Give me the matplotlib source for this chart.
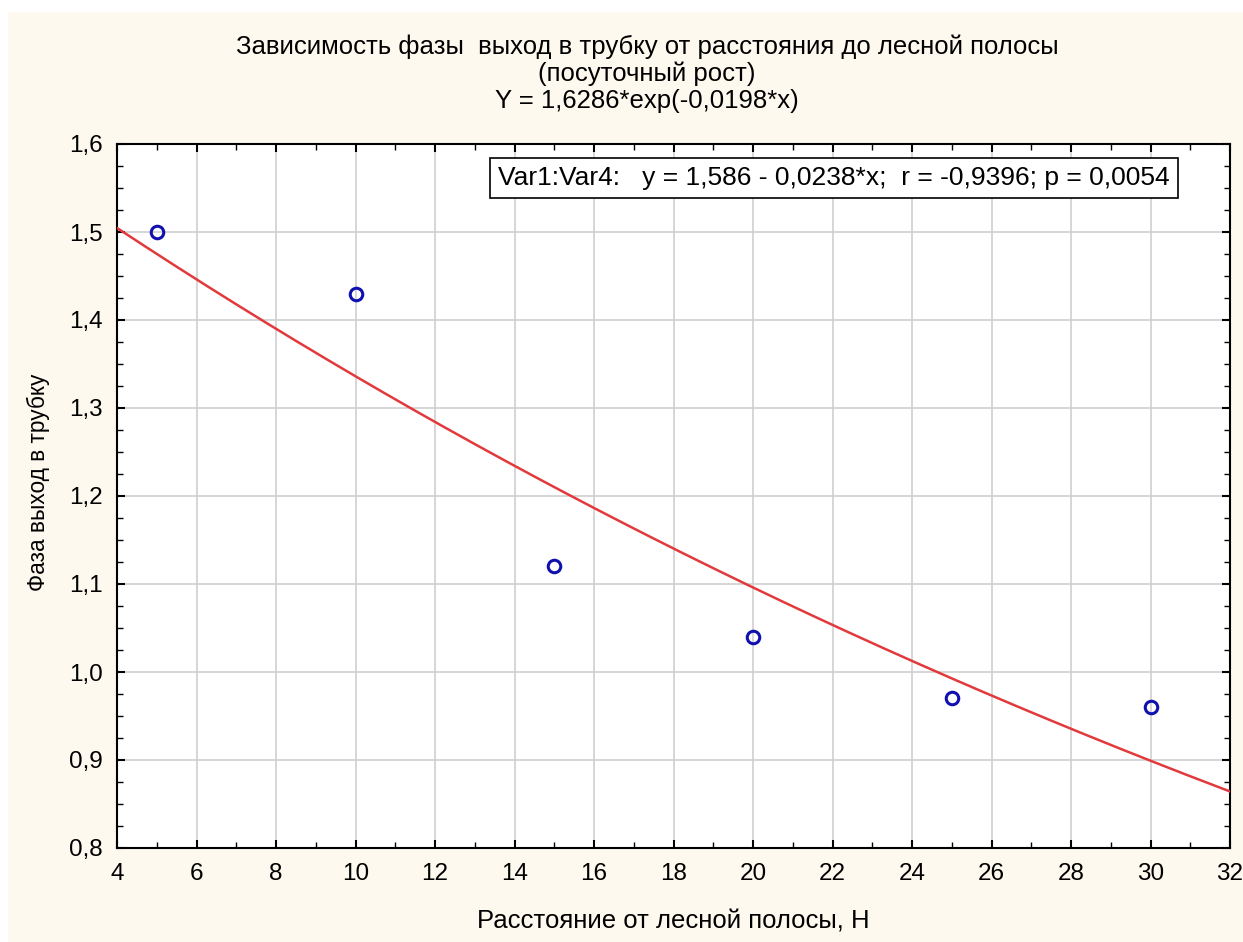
import numpy as np
import matplotlib
matplotlib.use("Agg")
import matplotlib.pyplot as plt
from matplotlib.ticker import MultipleLocator, FuncFormatter

plt.rcParams['font.family'] = ['Liberation Sans', 'DejaVu Sans']

# Data
distance = [5, 10, 15, 20, 25, 30]
phase = [1.50, 1.43, 1.12, 1.04, 0.97, 0.96]
fit_a = 1.6286
fit_b = -0.0198
title_lines = ["Зависимость фазы  выход в трубку от расстояния до лесной полосы",
               "(посуточный рост)",
               "Y = 1,6286*exp(-0,0198*x)"]
stats_text = "Var1:Var4:   y = 1,586 - 0,0238*x;  r = -0,9396; p = 0,0054"
xlabel = "Расстояние от лесной полосы, Н"
ylabel = "Фаза выход в трубку"

bg = '#FEF9EE'
W, H = 1243, 942
fig = plt.figure(figsize=(W / 100, H / 100), dpi=100, facecolor='white')
fig.patches.append(plt.Rectangle((8 / W, 0), 1, 1 - 12 / H, transform=fig.transFigure,
                                 facecolor=bg, edgecolor='none', zorder=-10))
L, R, T, B = 117, 1230, 144, 848
ax = fig.add_axes([L / W, 1 - B / H, (R - L) / W, (B - T) / H])
ax.set_facecolor('white')

xs = np.linspace(4, 32, 300)
ax.plot(xs, fit_a * np.exp(fit_b * xs), color='#E23A3C', lw=1.8, zorder=3)
ax.plot(distance, phase, 'o', mfc='none', mec='#1010B0', mew=2.2, ms=9, zorder=4)

ax.set_xlim(4, 32)
ax.set_ylim(0.8, 1.6)
ax.xaxis.set_major_locator(MultipleLocator(2))
ax.xaxis.set_minor_locator(MultipleLocator(1))
ax.yaxis.set_major_locator(MultipleLocator(0.1))
ax.yaxis.set_minor_locator(MultipleLocator(0.025))
ax.yaxis.set_major_formatter(FuncFormatter(lambda v, p: f"{v:.1f}".replace('.', ',')))
ax.grid(True, which='major', color='#D0D0D0', lw=1.2)
ax.set_axisbelow(True)
ax.tick_params(which='both', direction='in', top=True, right=True, labelsize=17.5)
ax.tick_params(axis='x', pad=11)
ax.tick_params(axis='y', pad=10)
ax.tick_params(which='major', length=6, width=1.5)
ax.tick_params(which='minor', length=4, width=1)
for s in ax.spines.values():
    s.set_linewidth(1.5)
    s.set_color('black')

fig.text(0.5 * (L + R) / W, 1 - 922 / H, xlabel, ha='center', va='center', fontsize=18.5)
fig.text(38 / W, 1 - 482 / H, ylabel, ha='center', va='center', rotation=90, fontsize=16.3)

ys = [47, 74, 101]
for t, y in zip(title_lines, ys):
    fig.text(647 / W, 1 - y / H, t, ha='center', va='center', fontsize=18.5)

ax.text((1178 - 8 - L) / (R - L), (B - 178) / (B - T), stats_text, transform=ax.transAxes,
        ha='right', va='center', fontsize=19,
        bbox=dict(boxstyle='square,pad=0.3', fc='white', ec='black', lw=1.2), zorder=5)

fig.savefig('out.png', dpi=100, facecolor=fig.get_facecolor())
